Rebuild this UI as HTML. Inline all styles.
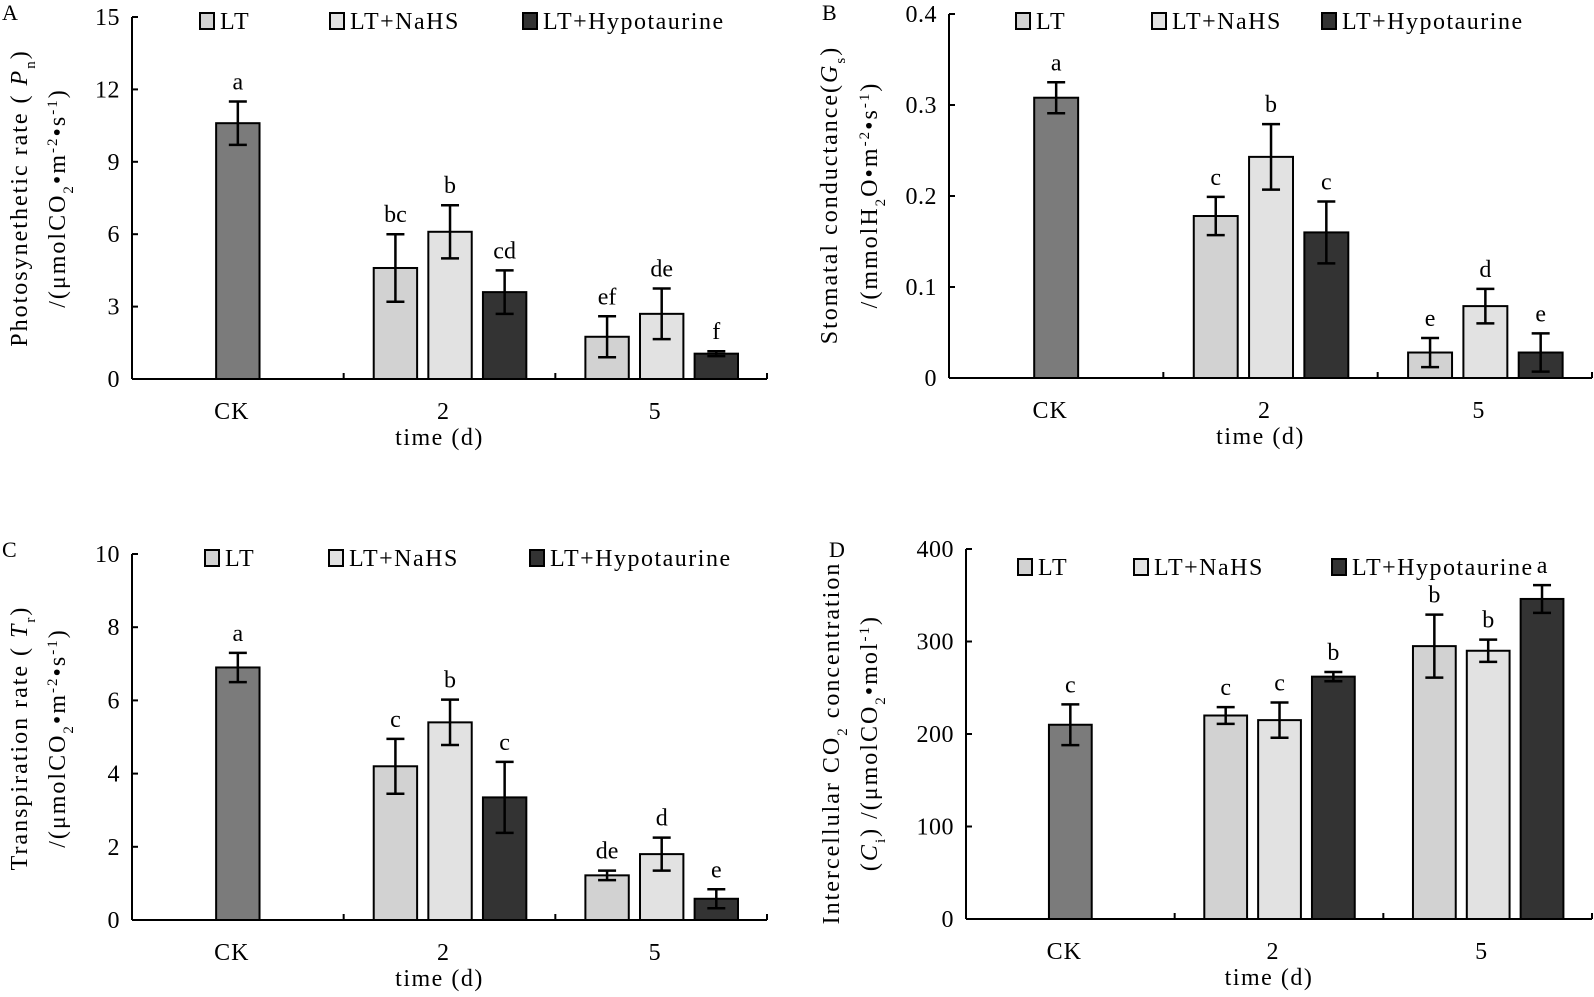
<!DOCTYPE html>
<html><head><meta charset="utf-8">
<style>
html,body{margin:0;padding:0;background:#fff;}
svg{display:block;font-family:"Liberation Serif","Times New Roman",serif;}
</style></head>
<body>
<svg id="fig" width="1594" height="997" viewBox="0 0 1594 997" xmlns="http://www.w3.org/2000/svg">
</svg>
<script>
// Shared categories
const groups = ["CK", "2", "5"];
const seriesNames = ["LT", "LT+NaHS", "LT+Hypotaurine"];

// Panel A: photosynthetic rate
const aCK = [10.6]; const aCKErr = [0.9];
const aLT = [4.6, 1.75]; const aLTErr = [1.4, 0.85];
const aNaHS = [6.1, 2.7]; const aNaHSErr = [1.1, 1.05];
const aHyp = [3.6, 1.05]; const aHypErr = [0.9, 0.1];
const aLetters = ["a", "bc", "b", "cd", "ef", "de", "f"];
const aTicks = [0, 3, 6, 9, 12, 15];

// Panel B: stomatal conductance
const bCK = [0.308]; const bCKErr = [0.017];
const bLT = [0.178, 0.028]; const bLTErr = [0.021, 0.016];
const bNaHS = [0.243, 0.079]; const bNaHSErr = [0.036, 0.019];
const bHyp = [0.160, 0.028]; const bHypErr = [0.034, 0.021];
const bLetters = ["a", "c", "b", "c", "e", "d", "e"];
const bTicks = [0, 0.1, 0.2, 0.3, 0.4];

// Panel C: transpiration rate
const cCK = [6.9]; const cCKErr = [0.4];
const cLT = [4.2, 1.22]; const cLTErr = [0.75, 0.13];
const cNaHS = [5.4, 1.8]; const cNaHSErr = [0.62, 0.45];
const cHyp = [3.35, 0.58]; const cHypErr = [0.97, 0.26];
const cLetters = ["a", "c", "b", "c", "de", "d", "e"];
const cTicks = [0, 2, 4, 6, 8, 10];

// Panel D: intercellular CO2
const dCK = [210]; const dCKErr = [22];
const dLT = [220, 295]; const dLTErr = [9, 34];
const dNaHS = [215, 290]; const dNaHSErr = [19, 12];
const dHyp = [262, 346]; const dHypErr = [5, 15];
const dLetters = ["c", "c", "c", "b", "b", "b", "a"];
const dTicks = [0, 100, 200, 300, 400];

const NS = "http://www.w3.org/2000/svg";
const svg = document.getElementById("fig");
const COLORS = {ck: "#7b7b7b", lt: "#d2d2d2", nahs: "#e2e2e2", hyp: "#333333"};

function mk(tag, attrs, parent) {
  const e = document.createElementNS(NS, tag);
  for (const k in attrs) e.setAttribute(k, attrs[k]);
  (parent || svg).appendChild(e);
  return e;
}

function drawPanel(p) {
  const g = mk("g", {});
  
  
  const ymax = p.ticks[p.ticks.length - 1];
  const ys = v => p.y0 - (v / ymax) * (p.y0 - p.yTop);
  const gw = (p.x1 - p.x0) / 3;
  const gx = i => p.x0 + i * gw;

  const ya = mk("line", {x1: p.x0, y1: p.yTop, x2: p.x0, y2: p.y0, stroke: "#000", "stroke-width": 2}, g);
  
  
  p.ticks.forEach(t => {
    const y = ys(t);
    mk("line", {x1: p.x0, y1: y, x2: p.x0 + 6, y2: y, stroke: "#000", "stroke-width": 2}, g);
    const tl = mk("text", {x: p.x0 - 12, y: y + 8, "text-anchor": "end", "font-size": 24, "letter-spacing": 0.5}, g);
    tl.textContent = String(t);
    
    
  });
  const xa = mk("line", {x1: p.x0, y1: p.y0, x2: p.x1, y2: p.y0, stroke: "#000", "stroke-width": 2}, g);
  
  
  for (let i = 1; i <= 3; i++) {
    mk("line", {x1: gx(i), y1: p.y0, x2: gx(i), y2: p.y0 - 6, stroke: "#000", "stroke-width": 2}, g);
  }
  groups.forEach((c, i) => {
    const t = mk("text", {x: gx(i) + gw / 2 - 6, y: p.y0 + 40, "text-anchor": "middle", "font-size": 24, "letter-spacing": 1}, g);
    t.textContent = c;
    
    
  });
  const xt = mk("text", {x: gx(1) + gw / 2 - 10, y: p.y0 + 66, "text-anchor": "middle", "font-size": 24, "letter-spacing": 1.5}, g);
  xt.textContent = "time (d)";
  
  

  const bw = gw * 0.205, step = gw * 0.258, off = gw * 0.142;
  const bars = [];
  bars.push({x: gx(0) + gw / 2 - bw / 2, v: p.ck[0], e: p.ckErr[0], c: COLORS.ck, n: "ck"});
  for (let gi = 0; gi < 2; gi++) {
    const base = gx(gi + 1) + off;
    bars.push({x: base, v: p.lt[gi], e: p.ltErr[gi], c: COLORS.lt, n: "lt-day" + groups[gi + 1]});
    bars.push({x: base + step, v: p.nahs[gi], e: p.nahsErr[gi], c: COLORS.nahs, n: "nahs-day" + groups[gi + 1]});
    bars.push({x: base + 2 * step, v: p.hyp[gi], e: p.hypErr[gi], c: COLORS.hyp, n: "hyp-day" + groups[gi + 1]});
  }
  bars.forEach((b, i) => {
    const top = ys(b.v);
    const r = mk("rect", {x: b.x, y: top, width: bw, height: p.y0 - top, fill: b.c, stroke: "#000", "stroke-width": 2}, g);
    
    
    const cx = b.x + bw / 2;
    const eh = ys(b.v + b.e), el = ys(b.v - b.e);
    const eb = mk("path", {d: `M${cx},${eh}V${el}M${cx - 9},${eh}H${cx + 9}M${cx - 9},${el}H${cx + 9}`, stroke: "#000", "stroke-width": 2.5, fill: "none"}, g);
    
    
    const lt = mk("text", {x: cx, y: eh - 12, "text-anchor": "middle", "font-size": 24}, g);
    lt.textContent = p.letters[i];
    
    
  });

  const lcols = [COLORS.lt, COLORS.nahs, COLORS.hyp];
  p.leg.forEach((lx, i) => {
    const lg = mk("g", {}, g);
    
    
    mk("rect", {x: lx, y: p.legY - 16, width: 14, height: 16, fill: lcols[i], stroke: "#000", "stroke-width": 2}, lg);
    const t = mk("text", {x: lx + 20, y: p.legY, "font-size": 24, "letter-spacing": 1.5}, lg);
    t.textContent = seriesNames[i];
  });

  const pl = mk("text", {x: p.lx, y: p.ly, "font-size": 22}, g);
  pl.textContent = p.label;
  
  

  p.titles.forEach((html, k) => {
    const t = mk("text", {transform: `translate(${p.tx[k]},${p.tcy}) rotate(-90)`, "text-anchor": "middle", "font-size": 24, "letter-spacing": 2}, g);
    t.innerHTML = html;
    
    
  });
}

const sub = s => `<tspan baseline-shift="sub" font-size="15">${s}</tspan>`;
const sup = s => `<tspan baseline-shift="super" font-size="15">${s}</tspan>`;
const unitMol = `/(μmolCO${sub("2")}•m${sup("-2")}•s${sup("-1")})`;

drawPanel({id: "a", label: "A", lx: 2, ly: 20, x0: 132, x1: 767, yTop: 17, y0: 379, ticks: aTicks,
  ck: aCK, ckErr: aCKErr, lt: aLT, ltErr: aLTErr, nahs: aNaHS, nahsErr: aNaHSErr, hyp: aHyp, hypErr: aHypErr,
  letters: aLetters, leg: [200, 330, 523], legY: 29,
  titles: [`Photosynethetic rate ( <tspan font-style="italic">P</tspan>${sub("n")})`, unitMol], tx: [27, 65], tcy: 198});

drawPanel({id: "b", label: "B", lx: 822, ly: 20, x0: 949, x1: 1592, yTop: 14, y0: 378, ticks: bTicks,
  ck: bCK, ckErr: bCKErr, lt: bLT, ltErr: bLTErr, nahs: bNaHS, nahsErr: bNaHSErr, hyp: bHyp, hypErr: bHypErr,
  letters: bLetters, leg: [1016, 1152, 1322], legY: 29,
  titles: [`Stomatal conductance(<tspan font-style="italic">G</tspan>${sub("s")})`, `/(mmolH${sub("2")}O•m${sup("-2")}•s${sup("-1")})`], tx: [837, 877], tcy: 195});

drawPanel({id: "c", label: "C", lx: 2, ly: 557, x0: 132, x1: 767, yTop: 554, y0: 920, ticks: cTicks,
  ck: cCK, ckErr: cCKErr, lt: cLT, ltErr: cLTErr, nahs: cNaHS, nahsErr: cNaHSErr, hyp: cHyp, hypErr: cHypErr,
  letters: cLetters, leg: [205, 329, 530], legY: 566,
  titles: [`Transpiration rate ( <tspan font-style="italic">T</tspan>${sub("r")})`, unitMol], tx: [27, 65], tcy: 738});

drawPanel({id: "d", label: "D", lx: 829, ly: 557, x0: 966, x1: 1592, yTop: 549, y0: 919, ticks: dTicks,
  ck: dCK, ckErr: dCKErr, lt: dLT, ltErr: dLTErr, nahs: dNaHS, nahsErr: dNaHSErr, hyp: dHyp, hypErr: dHypErr,
  letters: dLetters, leg: [1018, 1134, 1332], legY: 575,
  titles: [`Intercellular CO${sub("2")} concentration`, `(<tspan font-style="italic">C</tspan>${sub("i")}) /(μmolCO${sub("2")}•mol${sup("-1")})`], tx: [839, 877], tcy: 743});
</script>
</body></html>
